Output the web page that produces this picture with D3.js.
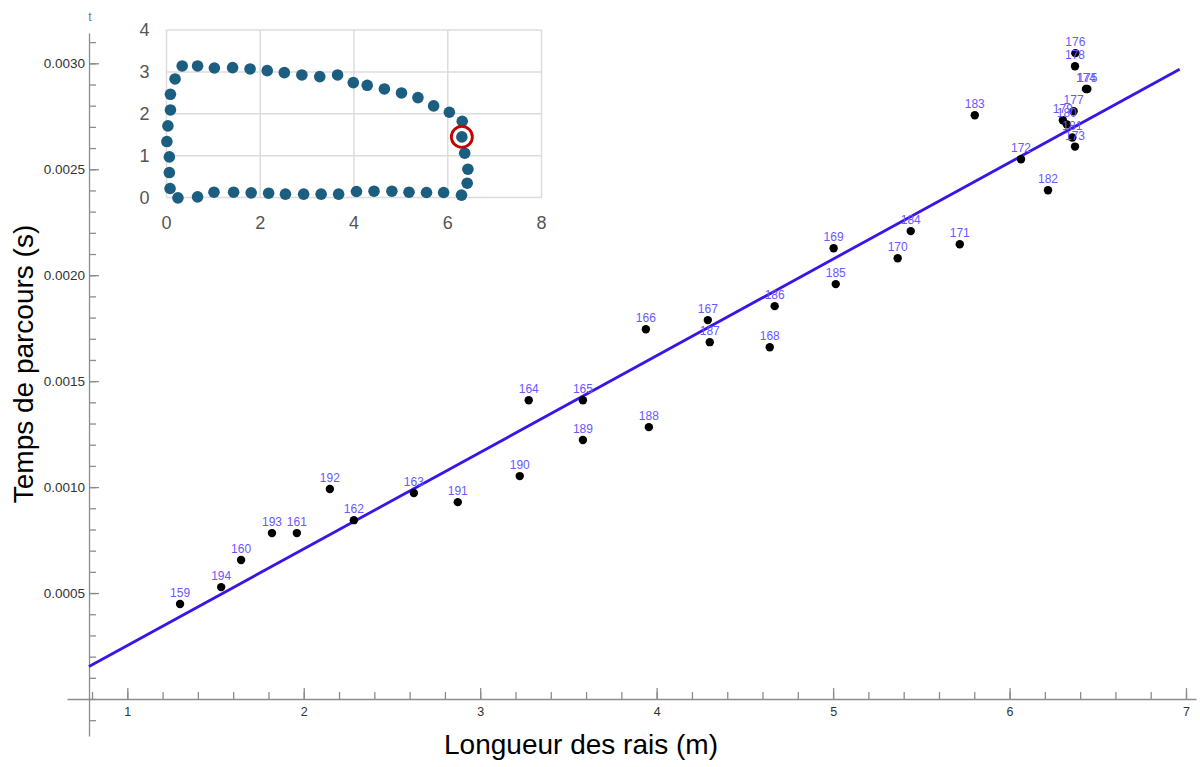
<!DOCTYPE html>
<html>
<head>
<meta charset="utf-8">
<script src="https://cdn.jsdelivr.net/npm/d3@7"></script>
<style>
  html, body { margin: 0; padding: 0; background: #fff; }
  svg { display: block; font-family: "Liberation Sans", Arial, sans-serif; }
</style>
</head>
<body>
<svg id="chart" width="1200" height="767"></svg>
<script>
// Mesures : identifiant du rai, longueur (m), temps de parcours (s)
const rayIds = [159, 194, 160, 193, 161, 192, 162, 163, 191, 190,
                164, 165, 189, 166, 188, 167, 187, 186, 168, 169,
                185, 170, 184, 171, 183, 172, 182, 176, 178, 174,
                175, 177, 179, 180, 181, 173];
const rayLengths = [1.299, 1.532, 1.645, 1.820, 1.961, 2.148, 2.284, 2.624, 2.873, 3.224,
                    3.275, 3.582, 3.582, 3.939, 3.956, 4.290, 4.301, 4.669, 4.641, 5.003,
                    5.015, 5.366, 5.440, 5.718, 5.803, 6.065, 6.218, 6.373, 6.371, 6.433,
                    6.441, 6.363, 6.302, 6.324, 6.356, 6.371];
const travelTimes = [0.000448, 0.000528, 0.000656, 0.000783, 0.000783, 0.000991, 0.000844, 0.000972, 0.000929, 0.001052,
                     0.001410, 0.001410, 0.001222, 0.001745, 0.001283, 0.001788, 0.001684, 0.001854, 0.001660, 0.002127,
                     0.001958, 0.002080, 0.002208, 0.002146, 0.002755, 0.002547, 0.002401, 0.003048, 0.002986, 0.002879,
                     0.002879, 0.002774, 0.002731, 0.002712, 0.002650, 0.002607];

// Droite d'ajustement t = a·L + b
const fitSlope = 0.000456;
const fitIntercept = -0.000204;
const fitDomain = [0.783, 6.964];

// Graduations
const xMajorTicks = [1, 2, 3, 4, 5, 6, 7];
const xMinorTicks = d3.range(4, 36).map(i => i / 5);          // 0.8 … 7.0
const yMajorTicks = [0.0005, 0.0010, 0.0015, 0.0020, 0.0025, 0.0030];
const yMinorTicks = d3.range(-1, 32).map(i => i / 10000);      // -0.0001 … 0.0031

// Encart : positions des capteurs autour de la section
const sensorX = [0.335, 0.663, 1.021, 1.410, 1.783, 2.149, 2.514, 2.888, 3.269, 3.650,
                 3.985, 4.282, 4.648, 5.013, 5.364, 5.699, 6.034, 6.309, 6.301, 6.362,
                 6.430, 6.415, 6.293, 5.912, 5.547, 5.173, 4.808, 4.427, 4.053, 3.672,
                 3.299, 2.926, 2.537, 2.179, 1.806, 1.432, 1.013, 0.663, 0.244, 0.076,
                 0.061, 0.061, 0.008, 0.030, 0.084, 0.084, 0.183];
const sensorY = [3.141, 3.141, 3.093, 3.101, 3.070, 3.030, 2.982, 2.926, 2.887, 2.926,
                 2.744, 2.680, 2.592, 2.497, 2.386, 2.187, 2.036, 1.821, 1.447, 1.058,
                 0.676, 0.342, 0.056, 0.119, 0.119, 0.127, 0.151, 0.151, 0.143, 0.080,
                 0.080, 0.080, 0.080, 0.103, 0.111, 0.127, 0.127, 0.016, -0.008, 0.215,
                 0.596, 0.970, 1.336, 1.710, 2.091, 2.465, 2.831];
const emitterIndex = 18;
const insetXTicks = [0, 2, 4, 6, 8];
const insetYTicks = [0, 1, 2, 3, 4];

const svg = d3.select("#chart");
svg.append("rect").attr("width", 1200).attr("height", 767).attr("fill", "#fff");

// ---- Graphique principal ----
const x = d3.scaleLinear().domain([1, 7]).range([127.3, 1186]);
const y = d3.scaleLinear().domain([0, 0.003]).range([699, 63.3]);

const axisColor = "#8c8c8c";
const yAxisPos = x(fitDomain[0]);

// Axe horizontal (le tracé s'étend un peu au-delà des graduations)
const xLine = x.copy().domain([x.invert(67), x.invert(1196)]).range([67, 1196]);
const gx = svg.append("g").attr("transform", `translate(0,${y(0)})`);
gx.call(d3.axisBottom(xLine).tickValues(xMinorTicks).tickSizeInner(-7).tickSizeOuter(0).tickFormat(""));
const gxMajor = svg.append("g").attr("transform", `translate(0,${y(0)})`);
gxMajor.call(d3.axisBottom(xLine).tickValues(xMajorTicks).tickSizeInner(-11).tickSizeOuter(0)
  .tickPadding(8).tickFormat(d3.format("d")));
gxMajor.select(".domain").remove();
[gx, gxMajor].forEach(g => {
  g.selectAll("path, line").attr("stroke", axisColor).attr("stroke-width", 1.3);
  g.selectAll("text").attr("fill", "#333").attr("font-size", 12.5)
    .attr("font-family", "'Liberation Sans', Arial, sans-serif");
});

// Axe vertical
const yLine = y.copy().domain([y.invert(736), y.invert(33)]).range([736, 33]);
const gy = svg.append("g").attr("transform", `translate(${yAxisPos},0)`);
gy.call(d3.axisLeft(yLine).tickValues(yMinorTicks).tickSizeInner(-7).tickSizeOuter(0).tickFormat(""));
const gyMajor = svg.append("g").attr("transform", `translate(${yAxisPos},0)`);
gyMajor.call(d3.axisLeft(yLine).tickValues(yMajorTicks).tickSizeInner(-10).tickSizeOuter(0)
  .tickPadding(4).tickFormat(d3.format(".4f")));
gyMajor.select(".domain").remove();
[gy, gyMajor].forEach(g => {
  g.selectAll("path, line").attr("stroke", axisColor).attr("stroke-width", 1.3);
  g.selectAll("text").attr("fill", "#333").attr("font-size", 13.5)
    .attr("font-family", "'Liberation Sans', Arial, sans-serif");
});

svg.append("text").attr("x", yAxisPos + 1).attr("y", 21)
  .attr("text-anchor", "middle").attr("font-size", 12).attr("fill", "#5b7fa8").text("t");

// Droite d'ajustement
const fitLine = d3.line().x(d => x(d)).y(d => y(fitSlope * d + fitIntercept));
svg.append("path").datum(fitDomain).attr("d", fitLine)
  .attr("fill", "none").attr("stroke", "#3a14e8").attr("stroke-width", 2.8);

// Points de mesure
const points = rayIds.map((id, i) => ({ id, L: rayLengths[i], t: travelTimes[i] }));
svg.append("g").selectAll("circle").data(points).join("circle")
  .attr("cx", d => x(d.L)).attr("cy", d => y(d.t)).attr("r", 4.2).attr("fill", "#000");
svg.append("g").selectAll("text").data(points).join("text")
  .attr("x", d => x(d.L)).attr("y", d => y(d.t) - 7)
  .attr("text-anchor", "middle").attr("font-size", 12).attr("fill", "#6a58ff")
  .text(d => d.id);

// Titres des axes
svg.append("text").attr("x", 581).attr("y", 754).attr("text-anchor", "middle")
  .attr("font-size", 28).attr("fill", "#000").text("Longueur des rais (m)");
svg.append("text").attr("transform", "translate(33,364) rotate(-90)").attr("text-anchor", "middle")
  .attr("font-size", 28).attr("fill", "#000").text("Temps de parcours (s)");

// ---- Encart : disposition des capteurs ----
const xi = d3.scaleLinear().domain([0, 8]).range([166.5, 541.5]);
const yi = d3.scaleLinear().domain([0, 4]).range([197.5, 30]);
const inset = svg.append("g");
inset.append("g").selectAll("line").data(insetXTicks).join("line")
  .attr("x1", d => xi(d)).attr("x2", d => xi(d)).attr("y1", yi(0)).attr("y2", yi(4))
  .attr("stroke", "#dcdcdc").attr("stroke-width", 1.5);
inset.append("g").selectAll("line").data(insetYTicks).join("line")
  .attr("x1", xi(0)).attr("x2", xi(8)).attr("y1", d => yi(d)).attr("y2", d => yi(d))
  .attr("stroke", "#dcdcdc").attr("stroke-width", 1.5);
inset.append("g").selectAll("text").data(insetYTicks).join("text")
  .attr("x", xi(0) - 17).attr("y", d => yi(d) + 6).attr("text-anchor", "end")
  .attr("font-size", 18).attr("fill", "#555").text(d => d);
inset.append("g").selectAll("text").data(insetXTicks).join("text")
  .attr("x", d => xi(d)).attr("y", yi(0) + 31).attr("text-anchor", "middle")
  .attr("font-size", 18).attr("fill", "#555").text(d => d);
inset.append("g").selectAll("circle").data(sensorX.map((v, i) => [v, sensorY[i]])).join("circle")
  .attr("cx", d => xi(d[0])).attr("cy", d => yi(d[1])).attr("r", 5.8).attr("fill", "#1b5e80");
inset.append("circle")
  .attr("cx", xi(sensorX[emitterIndex])).attr("cy", yi(sensorY[emitterIndex])).attr("r", 10.5)
  .attr("fill", "none").attr("stroke", "#c40000").attr("stroke-width", 2.8);
</script>
</body>
</html>
